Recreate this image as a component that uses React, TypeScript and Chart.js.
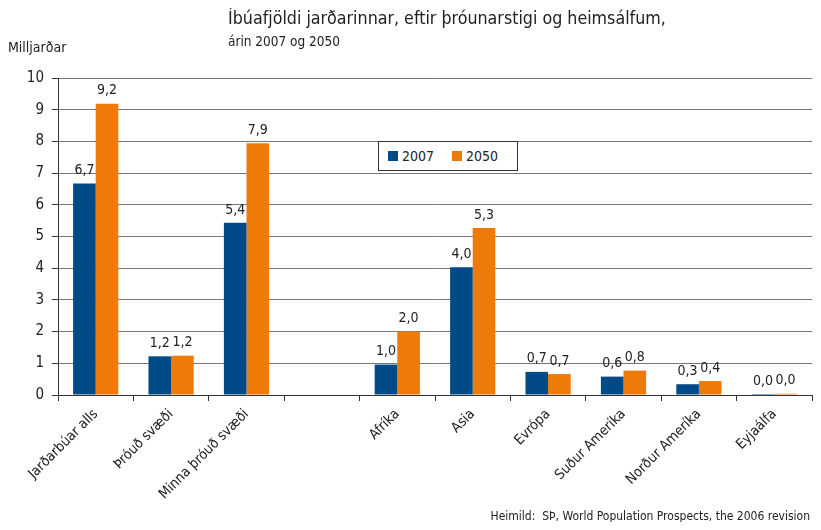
import React, { useEffect, useRef } from "react";
import { Chart, registerables } from "chart.js";

Chart.register(...registerables);

const categories = [
  "Jarðarbúar alls",
  "Þróuð svæði",
  "Minna þróuð svæði",
  "",
  "Afríka",
  "Asia",
  "Evrópa",
  "Suður Ameríka",
  "Norður Ameríka",
  "Eyjaálfa",
];
const values2007 = [6.67, 1.22, 5.43, null, 0.96, 4.03, 0.73, 0.58, 0.34, 0.03];
const values2050 = [9.19, 1.24, 7.94, null, 2.0, 5.27, 0.66, 0.77, 0.44, 0.04];
const yTicks = [0, 1, 2, 3, 4, 5, 6, 7, 8, 9, 10];

const FONT = "'Liberation Sans Narrow', 'DejaVu Sans Condensed', 'Open Sans', sans-serif";
const BLUE = "#004B87";
const ORANGE = "#EE7A08";

const valueLabels = {
  id: "valueLabels",
  afterDatasetsDraw(chart: any) {
    const ctx = chart.ctx;
    ctx.save();
    ctx.font = `14px ${FONT}`;
    ctx.fillStyle = "#222";
    ctx.textAlign = "center";
    ctx.textBaseline = "bottom";
    chart.data.datasets.forEach((ds: any, di: number) => {
      const meta = chart.getDatasetMeta(di);
      meta.data.forEach((el: any, i: number) => {
        const v = ds.data[i];
        if (v === null || v === undefined) return;
        const txt = v.toFixed(1).replace(".", ",");
        ctx.fillText(txt, el.x, el.y - 6);
      });
    });
    ctx.restore();
  },
};

export default function App() {
  const ref = useRef<HTMLCanvasElement>(null);
  useEffect(() => {
    if (!ref.current) return;
    const chart = new Chart(ref.current, {
      type: "bar",
      data: {
        labels: categories,
        datasets: [
          { label: "2007", data: values2007 as any, backgroundColor: BLUE },
          { label: "2050", data: values2050 as any, backgroundColor: ORANGE },
        ],
      },
      options: {
        animation: false,
        responsive: false,
        maintainAspectRatio: false,
        layout: { padding: { top: 70, right: 1, bottom: 0, left: 0 } },
        datasets: {
          bar: { categoryPercentage: 0.6, barPercentage: 1.0 },
        },
        plugins: {
          legend: { display: false },
          tooltip: { enabled: false },
          title: { display: false },
        },
        scales: {
          x: {
            offset: true,
            grid: {
              display: true,
              offset: true,
              drawOnChartArea: false,
              drawTicks: true,
              tickLength: 6,
              color: "#333",
            },
            border: { display: true, color: "#333", width: 1 },
            ticks: {
              autoSkip: false,
              maxRotation: 45,
              minRotation: 45,
              color: "#222",
              font: { family: FONT, size: 14 },
              padding: 5,
            },
            afterFit(scale: any) {
              scale.height = 127;
            },
          },
          y: {
            min: 0,
            max: 10,
            afterBuildTicks(scale: any) {
              scale.ticks = yTicks.map((v) => ({ value: v }));
            },
            grid: {
              color: "#777",
              lineWidth: 1,
              drawTicks: true,
              tickLength: 6,
              tickColor: "#333",
            },
            border: { display: true, color: "#333", width: 1 },
            ticks: {
              color: "#222",
              font: { family: FONT, size: 15 },
              padding: 8,
            },
            afterFit(scale: any) {
              scale.width = 50;
            },
          },
        },
      },
      plugins: [valueLabels],
    });
    return () => chart.destroy();
  }, []);

  return (
    <div style={{ position: "relative", width: 805, height: 514, fontFamily: FONT, color: "#222" }}>
      <canvas ref={ref} width={805} height={514} style={{ display: "block" }} />
      <div style={{ position: "absolute", left: 220, top: -1, fontSize: 17.7, lineHeight: "22px", whiteSpace: "nowrap" }}>
        Íbúafjöldi jarðarinnar, eftir þróunarstigi og heimsálfum,
      </div>
      <div style={{ position: "absolute", left: 220, top: 25, fontSize: 13.5, lineHeight: "17px", whiteSpace: "nowrap" }}>
        árin 2007 og 2050
      </div>
      <div style={{ position: "absolute", left: 0, top: 31, fontSize: 14, lineHeight: "17px", whiteSpace: "nowrap" }}>
        Milljarðar
      </div>
      <div
        style={{
          position: "absolute",
          left: 370,
          top: 133,
          width: 138,
          height: 28,
          border: "1px solid #333",
          background: "#fff",
          fontSize: 14,
        }}
      >
        <div style={{ position: "absolute", left: 9, top: 9, width: 10, height: 10, background: BLUE }} />
        <div style={{ position: "absolute", left: 23, top: 5, lineHeight: "18px" }}>2007</div>
        <div style={{ position: "absolute", left: 73, top: 9, width: 10, height: 10, background: ORANGE }} />
        <div style={{ position: "absolute", left: 87, top: 5, lineHeight: "18px" }}>2050</div>
      </div>
      <div style={{ position: "absolute", right: 3, top: 501, fontSize: 12, lineHeight: "15px", whiteSpace: "nowrap" }}>
        Heimild:&nbsp; SÞ, World Population Prospects, the 2006 revision
      </div>
    </div>
  );
}
